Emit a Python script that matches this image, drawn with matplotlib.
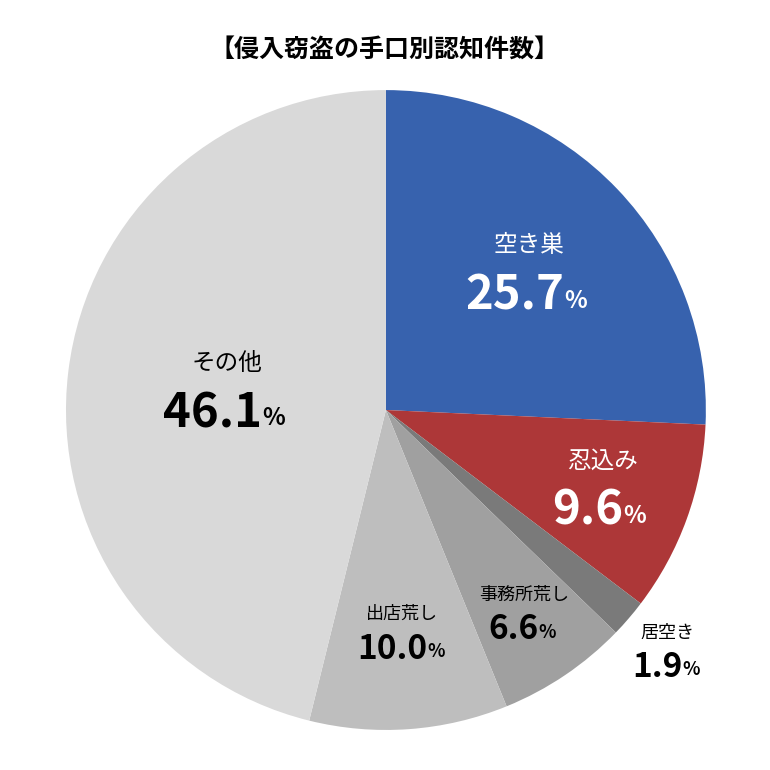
import numpy as np
import matplotlib
matplotlib.use("Agg")
import matplotlib.pyplot as plt

plt.rcParams['font.family'] = ['Noto Sans CJK JP', 'DejaVu Sans']

labels = ["空き巣", "忍込み", "居空き", "事務所荒し", "出店荒し", "その他"]
values = [25.7, 9.6, 1.9, 6.6, 10.0, 46.1]
colors = ["#3762AE", "#AD3738", "#7A7A7A", "#A0A0A0", "#BEBEBE", "#D9D9D9"]
text_colors = ["white", "white", "black", "black", "black", "black"]
label_r = [0.62, 0.72, 1.16, 0.77, 0.70, 0.50]
name_size = [17, 17, 13, 13, 13, 17]
num_size = [34, 34, 24, 24, 24, 34]
pct_size = [17, 17, 13, 13, 13, 17]

fig = plt.figure(figsize=(7.7, 7.7), dpi=100)
ax = fig.add_axes([0.0857, 0.052, 0.831, 0.831])
wedges, _ = ax.pie(values, colors=colors, startangle=90, counterclock=False,
                   radius=1.0, wedgeprops=dict(linewidth=0))
ax.set_xlim(-1, 1)
ax.set_ylim(-1, 1)
ax.set_aspect('equal')
ax.axis('off')

for w, lab, v, tc, r, ns, nus, ps in zip(wedges, labels, values, text_colors,
                                           label_r, name_size, num_size, pct_size):
    ang = np.deg2rad((w.theta1 + w.theta2) / 2)
    x, y = r * np.cos(ang), r * np.sin(ang)
    k = nus / 34
    ax.text(x, y + 0.085 * k, lab, ha='center', va='center', fontsize=ns, color=tc)
    t = ax.text(x - 0.045 * k, y - 0.07 * k, f"{v:.1f}", ha='center', va='center',
                fontsize=nus, fontweight='bold', color=tc)
    ax.annotate("%", xy=(1, 0.14), xycoords=t, xytext=(0, 0), textcoords='offset points',
                ha='left', va='bottom', fontsize=ps, fontweight='bold', color=tc)

fig.text(0.5, 0.935, "【侵入窃盗の手口別認知件数】", ha='center', va='center',
         fontsize=18, fontweight='bold')

fig.savefig("out.png", dpi=100, facecolor='white')
